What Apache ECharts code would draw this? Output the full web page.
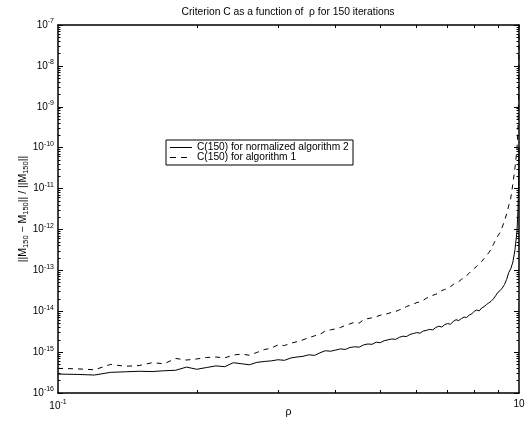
<!DOCTYPE html>
<html><head><meta charset="utf-8">
<script src="https://cdn.jsdelivr.net/npm/echarts@6/dist/echarts.min.js"></script>
<style>html,body{margin:0;padding:0;background:#fff}#c{width:531px;height:425px}</style>
</head><body><div id="c"></div>
<script>
// rho values (x)
const rho = [0.10,0.11,0.12,0.13,0.14,0.15,0.16,0.17,0.18,0.19,
0.20,0.21,0.22,0.23,0.24,0.25,0.26,0.27,0.28,0.29,
0.30,0.31,0.32,0.33,0.34,0.35,0.36,0.37,0.38,0.39,
0.40,0.41,0.42,0.43,0.44,0.45,0.46,0.47,0.48,0.49,
0.50,0.51,0.52,0.53,0.54,0.55,0.56,0.57,0.58,0.59,
0.60,0.61,0.62,0.63,0.64,0.65,0.66,0.67,0.68,0.69,
0.70,0.71,0.72,0.73,0.74,0.75,0.76,0.77,0.78,0.79,
0.80,0.81,0.82,0.83,0.84,0.85,0.86,0.87,0.88,0.89,
0.90,0.91,0.92,0.93,0.94,0.95,0.96,0.97,0.98,0.99,
0.995,0.998,0.999,1.0];
// C(150) for normalized algorithm 2 (solid)
const algo2 = [2.9e-16,2.85e-16,2.75e-16,3.2e-16,3.3e-16,3.4e-16,3.35e-16,3.5e-16,3.6e-16,4.3e-16,
3.8e-16,4.2e-16,4.6e-16,4.4e-16,5.5e-16,5.2e-16,4.9e-16,5.6e-16,5.9e-16,6.1e-16,
6.5e-16,6.3e-16,7.2e-16,7.6e-16,7.9e-16,8.6e-16,8.3e-16,9.6e-16,1.08e-15,1.05e-15,
1.12e-15,1.2e-15,1.16e-15,1.3e-15,1.35e-15,1.32e-15,1.5e-15,1.58e-15,1.55e-15,1.75e-15,
1.7e-15,1.9e-15,2.0e-15,2.1e-15,2.05e-15,2.3e-15,2.45e-15,2.4e-15,2.7e-15,2.85e-15,
3.0e-15,2.9e-15,3.3e-15,3.4e-15,3.6e-15,3.5e-15,4.0e-15,4.3e-15,4.1e-15,4.7e-15,
5.0e-15,4.8e-15,5.6e-15,6.2e-15,5.9e-15,6.6e-15,7.2e-15,7.0e-15,8.1e-15,8.6e-15,
1.0e-14,1.07e-14,1.02e-14,1.2e-14,1.3e-14,1.45e-14,1.6e-14,1.75e-14,2.0e-14,2.4e-14,
2.9e-14,3.2e-14,3.7e-14,4.5e-14,6.0e-14,8.8e-14,1.1e-13,1.6e-13,3.2e-13,9.0e-13,
3e-12,1.2e-11,3e-11,1e-10];
// C(150) for algorithm 1 (dashed)
const algo1 = [4.0e-16,3.9e-16,3.7e-16,5.0e-16,4.5e-16,4.7e-16,5.5e-16,5.2e-16,7.0e-16,6.4e-16,
6.8e-16,7.4e-16,7.6e-16,7.2e-16,8.5e-16,8.9e-16,8.4e-16,9.8e-16,1.15e-15,1.25e-15,
1.5e-15,1.45e-15,1.65e-15,1.8e-15,2.0e-15,2.25e-15,2.5e-15,2.7e-15,3.3e-15,3.5e-15,
3.7e-15,4.0e-15,4.5e-15,4.9e-15,5.4e-15,5.1e-15,6.2e-15,6.6e-15,6.9e-15,7.3e-15,
8.0e-15,8.2e-15,8.8e-15,9.4e-15,9.8e-15,1.08e-14,1.15e-14,1.3e-14,1.4e-14,1.5e-14,
1.62e-14,1.7e-14,1.85e-14,2.1e-14,2.2e-14,2.45e-14,2.6e-14,2.8e-14,3.2e-14,3.4e-14,
3.6e-14,4.0e-14,4.5e-14,4.9e-14,5.3e-14,6.0e-14,6.6e-14,7.5e-14,8.5e-14,1.0e-13,
1.12e-13,1.25e-13,1.45e-13,1.65e-13,1.95e-13,2.3e-13,2.7e-13,3.3e-13,4.3e-13,5.6e-13,
7.0e-13,8.5e-13,1.15e-12,1.6e-12,2.4e-12,3.8e-12,6.0e-12,1.3e-11,3.2e-11,9e-11,
3e-10,2e-9,1e-8,1e-7];

const seriesNames = ['C(150) for normalized algorithm 2', 'C(150) for algorithm 1'];
const titleText = 'Criterion C as a function of  \u03c1 for 150 iterations';
const xAxisTitle = '\u03c1';
const yExponents = [-16,-15,-14,-13,-12,-11,-10,-9,-8,-7];
const xLabelValues = [0.1, 1];
const xMinorMultipliers = [2,3,4,5,6,7,8,9];

const yMajor = yExponents.map(e => Math.pow(10, e));
const yMinor = [];
yExponents.slice(0, -1).forEach(e => xMinorMultipliers.forEach(m => yMinor.push(m * Math.pow(10, e))));
const xMinor = xMinorMultipliers.map(m => m / 10);

const FONT = '"Liberation Sans", Arial, Helvetica, sans-serif';
const rich = {
  b: {fontFamily: FONT, fontSize: 10, color: '#000'},
  s: {fontFamily: FONT, fontSize: 7, color: '#000', padding: [0, 0, 7, 0]}
};
function powLabel(v) {
  const e = Math.round(Math.log10(v));
  return e === 0 ? '{b|10}' : '{b|10}{s|' + e + '}';
}
const X = {min: 0.1, max: 1};
const Y = {min: 1e-16, max: 1e-7};
const lineC = {color: '#000', width: 1.5};

// legend box geometry
const LG = {x: 166, y: 140, w: 187, h: 25};
const legendGraphics = [
  {type: 'rect', z: 100, shape: {x: LG.x, y: LG.y, width: LG.w, height: LG.h},
   style: {fill: '#fff', stroke: '#000', lineWidth: 1}},
  {type: 'line', z: 101, shape: {x1: LG.x + 4, y1: LG.y + 7.5, x2: LG.x + 26, y2: LG.y + 7.5},
   style: {stroke: '#000', lineWidth: 1}},
  {type: 'line', z: 101, shape: {x1: LG.x + 4, y1: LG.y + 17.5, x2: LG.x + 26, y2: LG.y + 17.5},
   style: {stroke: '#000', lineWidth: 1, lineDash: [6, 5]}},
  {type: 'text', z: 101, x: LG.x + 31, y: LG.y + 7.5,
   style: {text: seriesNames[0], font: '10.2px ' + FONT, fill: '#000', textVerticalAlign: 'middle'}},
  {type: 'text', z: 101, x: LG.x + 31, y: LG.y + 17.5,
   style: {text: seriesNames[1], font: '10.2px ' + FONT, fill: '#000', textVerticalAlign: 'middle'}}
];

const chart = echarts.init(document.getElementById('c'), null, {renderer: 'canvas'});
chart.setOption({
  backgroundColor: '#fff',
  animation: false,
  grid: {left: 58, right: 12, top: 25, bottom: 32, outerBoundsMode: 'none', containLabel: false},
  graphic: [
    {type: 'text', x: 288, y: 12, z: 100,
     style: {text: titleText, font: '10.3px ' + FONT, fill: '#000', textAlign: 'center', textVerticalAlign: 'middle'}}
  ].concat(legendGraphics),
  xAxis: [
    {type: 'log', logBase: 10, ...X, position: 'bottom',
     axisLine: {show: true, lineStyle: lineC},
     axisTick: {show: true, inside: true, length: 3, customValues: xMinor, lineStyle: {color: '#000'}},
     axisLabel: {customValues: xLabelValues, formatter: powLabel, rich: rich, margin: 6},
     splitLine: {show: false}, minorTick: {show: false},
     name: xAxisTitle, nameLocation: 'middle', nameGap: 14, nameMoveOverlap: false,
     nameTextStyle: {fontFamily: FONT, fontSize: 10.5, color: '#000'}},
    {type: 'log', logBase: 10, ...X, position: 'top',
     axisLine: {show: true, lineStyle: lineC},
     axisTick: {show: true, inside: true, length: 3, customValues: xMinor, lineStyle: {color: '#000'}},
     axisLabel: {show: false}, splitLine: {show: false}}
  ],
  yAxis: [
    {type: 'log', logBase: 10, ...Y, position: 'left',
     axisLine: {show: true, lineStyle: lineC},
     axisTick: {show: true, inside: true, length: 5, customValues: yMajor, lineStyle: {color: '#000'}},
     axisLabel: {customValues: yMajor, formatter: powLabel, rich: rich, margin: 4},
     splitLine: {show: false},
     name: '||M{sub|150} \u2212 M{sub|150}|| / ||M{sub|150}||', nameLocation: 'middle', nameGap: 28,
     nameMoveOverlap: false,
     nameTextStyle: {fontFamily: FONT, fontSize: 10.5, color: '#000',
       rich: {sub: {fontFamily: FONT, fontSize: 7.5, color: '#000', padding: [6, 0, 0, 0]}}}},
    {type: 'log', logBase: 10, ...Y, position: 'left',
     axisLine: {show: false},
     axisTick: {show: true, inside: true, length: 2.5, customValues: yMinor, lineStyle: {color: '#000'}},
     axisLabel: {show: false}, splitLine: {show: false}},
    {type: 'log', logBase: 10, ...Y, position: 'right',
     axisLine: {show: true, lineStyle: lineC},
     axisTick: {show: true, inside: true, length: 5, customValues: yMajor, lineStyle: {color: '#000'}},
     axisLabel: {show: false}, splitLine: {show: false}},
    {type: 'log', logBase: 10, ...Y, position: 'right',
     axisLine: {show: false},
     axisTick: {show: true, inside: true, length: 2.5, customValues: yMinor, lineStyle: {color: '#000'}},
     axisLabel: {show: false}, splitLine: {show: false}}
  ],
  series: [
    {name: seriesNames[0], type: 'line', xAxisIndex: 0, yAxisIndex: 0, showSymbol: false, symbol: 'none',
     lineStyle: {color: '#000', width: 1, type: 'solid'}, itemStyle: {color: '#000'},
     data: rho.map((r, i) => [r, algo2[i]])},
    {name: seriesNames[1], type: 'line', xAxisIndex: 0, yAxisIndex: 0, showSymbol: false, symbol: 'none',
     lineStyle: {color: '#000', width: 1, type: [5, 5]}, itemStyle: {color: '#000'},
     data: rho.map((r, i) => [r, algo1[i]])}
  ]
});
</script>
</body></html>
